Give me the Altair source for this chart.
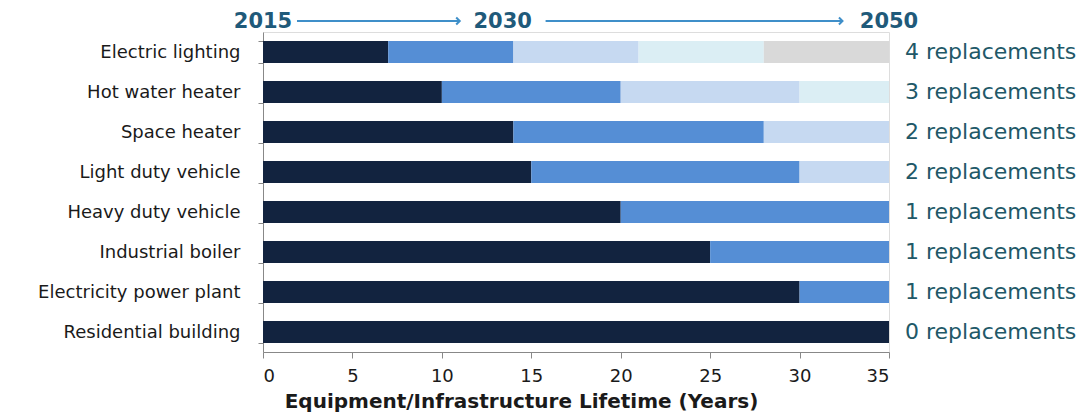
import altair as alt
import pandas as pd

categories = ["Electric lighting", "Hot water heater", "Space heater", "Light duty vehicle",
              "Heavy duty vehicle", "Industrial boiler", "Electricity power plant", "Residential building"]
segment_ends = [[7, 14, 21, 28, 35], [10, 20, 30, 35], [14, 28, 35], [15, 30, 35],
                [20, 35], [25, 35], [30, 35], [35]]
replacement_labels = ["4 replacements", "3 replacements", "2 replacements", "2 replacements",
                      "1 replacements", "1 replacements", "1 replacements", "0 replacements"]
seg_colors = ["#12233f", "#558ed5", "#c6d9f1", "#dbeef4", "#d9d9d9"]
years = ["2015", "2030", "2050"]
year_pos = [0, 13.4, 35]
arrow_start = [1.9, 15.8]
arrow_end = [11.0, 32.4]

rows = []
for cat, ends in zip(categories, segment_ends):
    start = 0
    for i, e in enumerate(ends):
        rows.append({"cat": cat, "start": start, "end": e, "seg": i})
        start = e
bars_df = pd.DataFrame(rows)
lab_df = pd.DataFrame({"cat": categories, "label": replacement_labels, "x": [35] * len(categories)})
year_df = pd.DataFrame({"year": years, "x": year_pos})
arrow_df = pd.DataFrame({"x": arrow_start, "x2": arrow_end})

FONT = "DejaVu Sans"
xscale = alt.Scale(domain=[0, 35], nice=False)
yenc = alt.Y("cat:N", sort=categories, scale=alt.Scale(paddingInner=0.45, paddingOuter=0.225),
             axis=alt.Axis(title=None, labelFontSize=18, labelColor="#1a1a1a", labelFont=FONT,
                           labelPadding=18, labelLimit=400, tickBand="extent", tickSize=5,
                           tickColor="#888888", domainColor="#888888"))

bars = alt.Chart(bars_df).mark_bar().encode(
    x=alt.X("start:Q", scale=xscale,
            axis=alt.Axis(title="Equipment/Infrastructure Lifetime (Years)", values=list(range(0, 36, 5)),
                          labelFontSize=18, labelColor="#1a1a1a", labelFont=FONT, labelPadding=9,
                          titleFontSize=20, titleFont=FONT, titleFontWeight="bold", titleColor="#1a1a1a",
                          titlePadding=6, titleX=258, titleAlign="center",
                          tickSize=6, tickColor="#888888", domainColor="#888888", grid=False)),
    x2="end:Q",
    y=yenc,
    color=alt.Color("seg:O", scale=alt.Scale(domain=[0, 1, 2, 3, 4], range=seg_colors), legend=None),
)

labels = alt.Chart(lab_df).mark_text(align="left", baseline="middle", fontSize=22, font=FONT,
                                     color="#215868", dx=16).encode(
    x=alt.X("x:Q", scale=xscale), y=alt.Y("cat:N", sort=categories), text="label:N")

year_text = alt.Chart(year_df).mark_text(align="center", baseline="middle", fontSize=21, font=FONT,
                                         fontWeight="bold", color="#1f5a7a").encode(
    x=alt.X("x:Q", scale=xscale), y=alt.value(-10), text="year:N")

arrow_lines = alt.Chart(arrow_df).mark_rule(color="#3f8fc9", strokeWidth=2).encode(
    x=alt.X("x:Q", scale=xscale), x2="x2:Q", y=alt.value(-11))
arrow_heads = alt.Chart(arrow_df).mark_point(shape="M -1 -1 L 0 0 L -1 1", filled=False, size=50,
                                             strokeWidth=2, color="#3f8fc9", opacity=1).encode(
    x=alt.X("x2:Q", scale=xscale), y=alt.value(-11))

chart = alt.layer(bars, labels, year_text, arrow_lines, arrow_heads).properties(
    width=626, height=320,
    autosize=alt.AutoSizeParams(type="none"),
    padding={"left": 263, "top": 32, "right": 203, "bottom": 61},
).configure_view(stroke=None).configure(background="white")

chart.save("out.html", embed_options={"renderer": "svg", "actions": False})
